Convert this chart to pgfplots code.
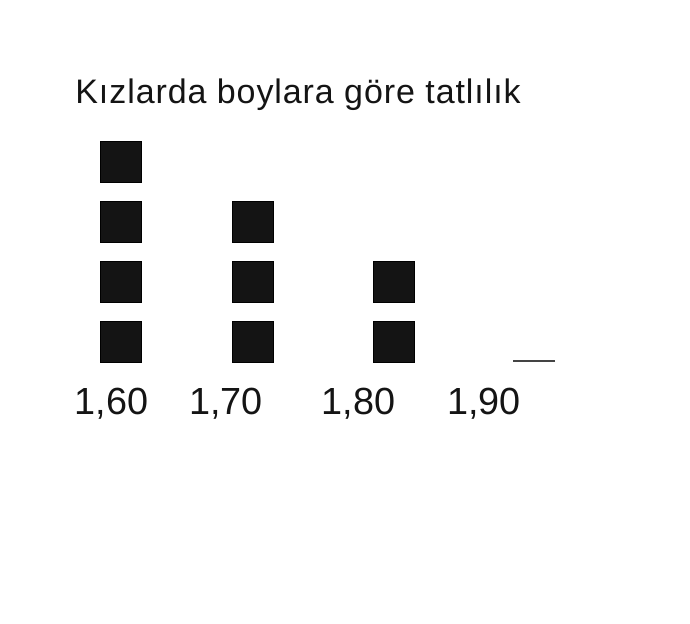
\documentclass[border=0pt]{standalone}
\usepackage{pgfplots}
\pgfplotsset{compat=1.18}
\usepackage{fontspec}
\setmainfont{Liberation Sans}
\newfontfamily\titlefont[LetterSpace=2.7]{Liberation Sans}
\definecolor{ink}{HTML}{141414}
\definecolor{dash}{HTML}{444444}
\begin{document}
\begin{tikzpicture}
  % 1 unit on x = 1 px of the reference (0.5pt); 1 unit on y = one square step
  \begin{axis}[
      scale only axis,
      width=345pt, height=311.5pt,
      xmin=0, xmax=690,
      ymin=-3.692, ymax=6.692,
      axis line style={draw=none},
      major tick length=0pt,
      ytick=\empty,
      xtick={111.5,226,358.5,484},
      xticklabels={{1,60},{1,70},{1,80},{1,90}},
      xticklabel style={anchor=base, yshift=104.5pt, font=\fontsize{18.9}{22}\selectfont, text=ink},
      title={\titlefont Kızlarda boylara göre tatlılık},
      every axis title/.style={anchor=base west, at={(rel axis cs:0.1087,0.8347)},
        font=\fontsize{17}{20}\selectfont, text=ink, inner sep=0pt},
      clip=false,
    ]
    % one square per unit of sweetness
    \addplot[only marks, mark=square*, mark size=10.25pt,
      mark options={draw=none, fill=ink}]
    coordinates {
      (120.5,1) (120.5,2) (120.5,3) (120.5,4)
      (252.5,1) (252.5,2) (252.5,3)
      (393.5,1) (393.5,2)
    };
    % 1,90: none
    \addplot[only marks, mark=-, mark size=10.5pt,
      mark options={draw=dash, line width=1.1pt}]
    coordinates {(534,0.675)};
  \end{axis}
\end{tikzpicture}
\end{document}
